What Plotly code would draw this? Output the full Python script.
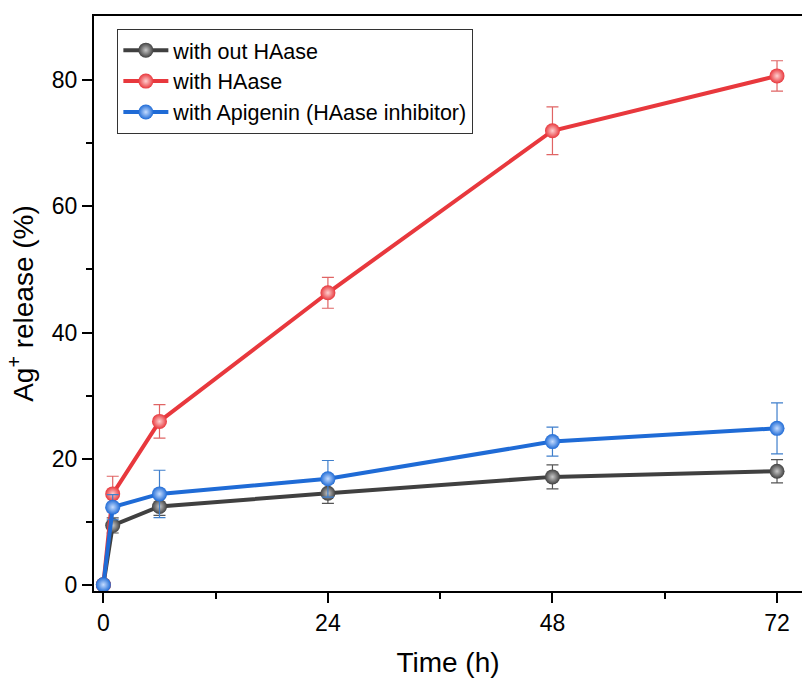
import plotly.graph_objects as go

time_h = [0, 1, 6, 24, 48, 72]

without_haase = [0, 9.4, 12.4, 14.5, 17.1, 18.0]
without_haase_err = [0, 1.2, 1.4, 1.6, 1.9, 1.85]

with_haase = [0, 14.4, 25.9, 46.3, 72.0, 80.7]
with_haase_err = [0, 2.8, 2.65, 2.45, 3.8, 2.4]

with_apigenin = [0, 12.3, 14.4, 16.8, 22.7, 24.8]
with_apigenin_err = [0, 2.0, 3.75, 2.9, 2.3, 4.05]

names = ["with out HAase", "with HAase", "with Apigenin (HAase inhibitor)"]
line_colors = ["#404040", "#e8383d", "#1f6bd6"]
err_colors = ["#555555", "#e06464", "#3f7fcc"]
tints = ["#c8c8c8", "#ffd0d0", "#c5dcff"]

fig = go.Figure()
for name, y, e, lc, ec, tc in zip(
    names,
    [without_haase, with_haase, with_apigenin],
    [without_haase_err, with_haase_err, with_apigenin_err],
    line_colors, err_colors, tints,
):
    fig.add_trace(go.Scatter(
        x=time_h, y=y, name=name, mode="lines+markers",
        line=dict(color=lc, width=4),
        marker=dict(size=15, color=lc, line=dict(width=0),
                    gradient=dict(type="radial", color=tc)),
        error_y=dict(type="data", array=e, visible=True, color=ec,
                     thickness=1.2, width=6),
    ))

font_family = "Liberation Sans, Arial, sans-serif"
fig.update_layout(
    width=802, height=684,
    margin=dict(l=94, r=0, t=16, b=93),
    paper_bgcolor="white", plot_bgcolor="white",
    font=dict(family=font_family, color="black"),
    showlegend=True,
    legend=dict(
        x=0.033, y=0.978, xanchor="left", yanchor="top",
        bordercolor="#333333", borderwidth=1, bgcolor="rgba(255,255,255,0)",
        font=dict(size=21.5, family=font_family), tracegroupgap=0,
        itemwidth=45,
    ),
    xaxis=dict(
        range=[-1, 74.67], tickvals=[0, 24, 48, 72],
        ticks="outside", ticklen=10, tickwidth=1.5, tickcolor="black",
        showline=True, linecolor="black", linewidth=2, mirror=True,
        showgrid=False, zeroline=False,
        tickfont=dict(size=23),
        title=dict(text="Time (h)", font=dict(size=28), standoff=18),
        minor=dict(tickvals=[12, 36, 60], ticks="outside", ticklen=6,
                   tickwidth=1.5, tickcolor="black"),
    ),
    yaxis=dict(
        range=[-1, 90.2], tickvals=[0, 20, 40, 60, 80],
        ticks="outside", ticklen=10, tickwidth=1.5, tickcolor="black",
        showline=True, linecolor="black", linewidth=2, mirror=False,
        showgrid=False, zeroline=False,
        tickfont=dict(size=23),
        title=dict(text="Ag<sup>+</sup> release (%)", font=dict(size=28), standoff=10),
        minor=dict(tickvals=[10, 30, 50, 70], ticks="outside", ticklen=6,
                   tickwidth=1.5, tickcolor="black"),
    ),
)

fig.write_html("out.html")
